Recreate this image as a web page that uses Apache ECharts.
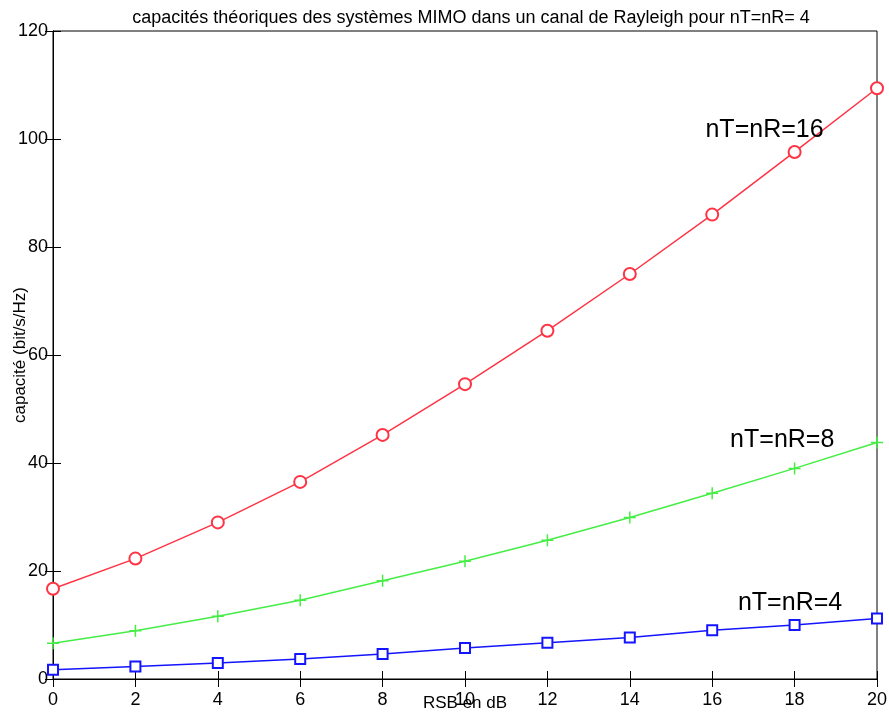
<!DOCTYPE html>
<html>
<head>
<meta charset="utf-8">
<script src="https://cdn.jsdelivr.net/npm/echarts@6/dist/echarts.min.js"></script>
<style>
  html, body { margin: 0; padding: 0; background: #fff; }
  #chart { width: 889px; height: 722px; }
</style>
</head>
<body>
<div id="chart"></div>
<script>
// SNR values in dB
const rsb = [0, 2, 4, 6, 8, 10, 12, 14, 16, 18, 20];

// Ergodic capacity (bit/s/Hz) for each antenna configuration
const cap4  = [1.7, 2.3, 2.95, 3.7, 4.65, 5.75, 6.7, 7.7, 9.05, 10.0, 11.2];
const cap8  = [6.6, 8.95, 11.6, 14.6, 18.2, 21.8, 25.7, 29.9, 34.4, 39.0, 43.8];
const cap16 = [16.7, 22.3, 29.0, 36.5, 45.2, 54.6, 64.5, 75.0, 86.0, 97.6, 109.4];

// Curve annotations: [text, x, y] in data units
const annot16 = ['nT=nR=16', 17.27, 101.6];
const annot8  = ['nT=nR=8', 17.7, 44.3];
const annot4  = ['nT=nR=4', 17.89, 14.1];

const xTicks = [0, 20, 2];
const yTicks = [0, 120, 20];

const FONT = 'Liberation Sans, Arial, sans-serif';
const RED = '#ff3344', GREEN = '#44ee44', BLUE = '#1414ff';

function pairs(vals) { return rsb.map((x, i) => [x, vals[i]]); }

function annotation(a) {
  return {
    silent: true,
    symbol: 'circle',
    symbolSize: 1,
    itemStyle: { color: 'rgba(0,0,0,0)' },
    data: [{ name: a[0], coord: [a[1], a[2]], value: a[0] }],
    label: {
      show: true, position: 'inside', formatter: a[0],
      color: '#000', fontSize: 25, fontFamily: FONT
    }
  };
}

const chart = echarts.init(document.getElementById('chart'), null, { renderer: 'canvas' });

const tickStyle = { show: true, inside: true, length: 8, lineStyle: { color: '#000', width: 1 } };

chart.setOption({
  animation: false,
  backgroundColor: '#fff',
  title: {
    text: 'capacités théoriques des systèmes MIMO dans un canal de Rayleigh pour nT=nR= 4',
    left: 466, top: 4, textAlign: 'center',
    textStyle: { fontFamily: FONT, fontSize: 18, fontWeight: 'normal', color: '#000' }
  },
  grid: {
    left: 53, right: 12, top: 31, bottom: 43,
    outerBoundsMode: 'none', containLabel: false,
    show: true, borderColor: '#000', borderWidth: 1, backgroundColor: '#fff'
  },
  xAxis: [{
    type: 'value', min: xTicks[0], max: xTicks[1], interval: xTicks[2],
    name: 'RSB en dB', nameLocation: 'middle', nameGap: 16, nameMoveOverlap: false,
    nameTextStyle: { fontFamily: FONT, fontSize: 17, color: '#000' },
    axisLine: { show: true, lineStyle: { color: '#000', width: 1 } },
    axisTick: tickStyle,
    axisLabel: { fontFamily: FONT, fontSize: 18, color: '#000', margin: 12 },
    splitLine: { show: false }
  }, {
    type: 'value', position: 'top', min: xTicks[0], max: xTicks[1], interval: xTicks[2],
    axisLine: { show: true, lineStyle: { color: '#000', width: 1 } },
    axisTick: tickStyle, axisLabel: { show: false }, splitLine: { show: false }
  }],
  yAxis: [{
    type: 'value', min: yTicks[0], max: yTicks[1], interval: yTicks[2],
    name: 'capacité (bit/s/Hz)', nameLocation: 'middle', nameGap: 24, nameRotate: 90,
    nameMoveOverlap: false,
    nameTextStyle: { fontFamily: FONT, fontSize: 17, color: '#000' },
    axisLine: { show: true, lineStyle: { color: '#000', width: 1 } },
    axisTick: tickStyle,
    axisLabel: { fontFamily: FONT, fontSize: 18, color: '#000', margin: 5 },
    splitLine: { show: false }
  }, {
    type: 'value', position: 'right', min: yTicks[0], max: yTicks[1], interval: yTicks[2],
    axisLine: { show: true, lineStyle: { color: '#000', width: 1 } },
    axisTick: tickStyle, axisLabel: { show: false }, splitLine: { show: false }
  }],
  series: [{
    name: 'nT=nR=16', type: 'line', data: pairs(cap16),
    symbol: 'emptyCircle', symbolSize: 12, showAllSymbol: true,
    lineStyle: { color: RED, width: 1.5 },
    itemStyle: { color: RED, borderColor: RED, borderWidth: 1.5 },
    markPoint: annotation(annot16)
  }, {
    name: 'nT=nR=8', type: 'line', data: pairs(cap8),
    symbol: 'path://M0,5L10,5M5,0L5,10', symbolSize: 12, showAllSymbol: true,
    lineStyle: { color: GREEN, width: 1.5 },
    itemStyle: { color: 'none', borderColor: GREEN, borderWidth: 1.5 },
    markPoint: annotation(annot8)
  }, {
    name: 'nT=nR=4', type: 'line', data: pairs(cap4),
    symbol: 'emptyRect', symbolSize: 10, showAllSymbol: true,
    lineStyle: { color: BLUE, width: 1.5 },
    itemStyle: { color: BLUE, borderColor: BLUE, borderWidth: 1.5 },
    markPoint: annotation(annot4)
  }]
});
</script>
</body>
</html>
